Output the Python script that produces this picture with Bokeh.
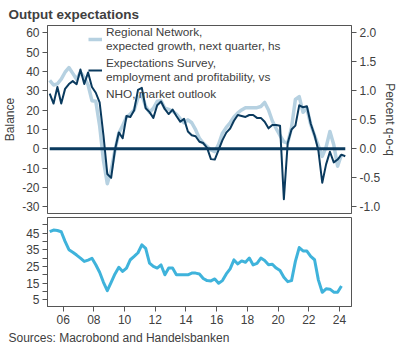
import pandas as pd
from bokeh.plotting import figure
from bokeh.models import (Range1d, LinearAxis, FixedTicker, Legend, LegendItem,
                          Title, PrintfTickFormatter)
from bokeh.layouts import column
from bokeh.embed import file_html
from bokeh.resources import INLINE

# ---------------- data (quarterly, from 2005Q1) ----------------
start_quarter = "2005Q1"

# Norges Bank Regional Network, expected growth next quarter (percent q-o-q, right scale)
regional_pct = [1.18, 1.10, 1.12, 1.20, 1.32, 1.40, 1.30, 1.20, 1.32, 1.23,
                1.10, 0.83, 0.82, 0.40, -0.20, -0.60, -0.37, -0.02, 0.27, 0.40,
                0.55, 0.60, 0.67, 0.88, 0.93, 0.73, 0.63, 0.70, 0.82, 0.83,
                0.70, 0.68, 0.65, 0.60, 0.52, 0.45, 0.50, 0.45, 0.33, 0.18,
                0.10, 0.04, -0.02, -0.05, 0.08, 0.27, 0.37, 0.45, 0.55, 0.62,
                0.67, 0.71, 0.71, 0.71, 0.71, 0.73, 0.80, 0.67, 0.48, 0.35,
                0.23, 0.12, 0.10, 0.37, 0.85, 0.90, 0.63, 0.70, 0.42, 0.23,
                0.05, -0.13, 0.03, 0.30, 0.07, -0.30, -0.10]

# Expectations Survey, employment and profitability (balance, left scale)
expect_balance = [28.6, 23.4, 32, 23.4, 31, 33.5, 35, 33.4, 41, 33.5,
                  39.5, 32, 29, 24, 7, -13, -15, -0.5, 8.5, 5.5,
                  17, 16.5, 20, 30.5, 31.5, 21, 19, 16, 22.5, 24.5,
                  20.5, 18, 20.3, 17, 14, 15.5, 9, 7, 6.5, 3.7,
                  3, 0.5, -5.3, -5.5, -0.5, 4.5, 8.4, 10.5, 14.5, 17.5,
                  17, 16.5, 17.5, 17.5, 16, 16, 14, 10.6, 12.3, 12.3,
                  12, -26, 3, 10, 12, 22.5, 21.5, 22, 13, 7,
                  -1, -17.5, -8, -1.5, -7, -5.5, -3, -3.8]

# NHO, market outlook (balance)
nho_outlook = [45.8, 46.8, 46.5, 45.8, 40, 35, 33.5, 31.8, 30, 28,
               28.8, 29.9, 26, 21.5, 15.5, 10.5, 15.5, 20.5, 24.5, 22,
               24, 29, 31, 33.2, 37.9, 35.8, 27, 25, 24, 25.9,
               20, 24, 24, 20, 20, 20, 20, 21, 21, 20.5,
               17.8, 16.5, 16.3, 17.5, 14.9, 16.5, 20.5, 23.5, 28.9, 26.5,
               28.3, 27.5, 30, 25.9, 26.8, 30, 28.5, 26, 26.3, 24,
               22.5, 18.5, 15.9, 16.5, 28, 36.3, 34.3, 34.2, 31, 29,
               16.8, 9.5, 11.6, 11.4, 9.6, 9.5, 13.3]

year_ticks = [2006, 2008, 2010, 2012, 2014, 2016, 2018, 2020, 2022, 2024]
year_labels = ["06", "08", "10", "12", "14", "16", "18", "20", "22", "24"]
balance_ticks = [-30, -20, -10, 0, 10, 20, 30, 40, 50, 60]
pct_ticks = [-1.0, -0.5, 0.0, 0.5, 1.0, 1.5, 2.0]
nho_ticks = [5, 15, 25, 35, 45]
nho_minor = [10, 20, 30, 40, 50]


def quarter_pos(n):
    per = pd.period_range(start_quarter, periods=n, freq="Q")
    return [p.year + (p.quarter - 1) / 4 + 0.125 for p in per]


t_reg = quarter_pos(len(regional_pct))
t_exp = quarter_pos(len(expect_balance))
t_nho = quarter_pos(len(nho_outlook))

# ---------------- styling ----------------
FONT = "Liberation Sans"
TXT = "#404040"
AX = "#555555"
DARK = "#0a3a5e"
LIGHT = "#b6d1e1"
NHO = "#3fb3db"

x_range = Range1d(2004.98, 2024.78)
scale = 30.0  # balance units per percent
y_lo, y_hi = -33.4, 63.75


def style_axis(ax):
    ax.axis_line_color = AX
    ax.major_tick_line_color = AX
    ax.minor_tick_line_color = AX
    ax.major_tick_out = 5
    ax.major_tick_in = 0
    ax.minor_tick_out = 0
    ax.minor_tick_in = 0
    ax.major_label_standoff = 3
    ax.major_label_text_font = FONT
    ax.major_label_text_font_size = "12px"
    ax.major_label_text_color = TXT
    ax.axis_label_text_font = FONT
    ax.axis_label_text_font_size = "12px"
    ax.axis_label_text_font_style = "normal"
    ax.axis_label_text_color = TXT


top = figure(width=400, height=215, output_backend="svg", toolbar_location=None,
             x_range=x_range, y_range=Range1d(y_lo, y_hi), x_axis_location=None,
             min_border_left=41, min_border_right=45, min_border_top=23,
             min_border_bottom=2, outline_line_color=AX, outline_line_width=1,
             background_fill_color="white", border_fill_color="white")
top.grid.visible = False
top.extra_y_ranges = {"pct": Range1d(y_lo / scale, y_hi / scale)}

top.yaxis.ticker = FixedTicker(ticks=balance_ticks)
top.yaxis.formatter = PrintfTickFormatter(format="%d")
top.yaxis.axis_label = "Balance"
top.yaxis.axis_label_standoff = 2
style_axis(top.yaxis[0])

right = LinearAxis(y_range_name="pct", ticker=FixedTicker(ticks=pct_ticks),
                   formatter=PrintfTickFormatter(format="%.1f"),
                   axis_label="Percent q-o-q", axis_label_standoff=0)
style_axis(right)
top.add_layout(right, "right")

r_reg = top.line(t_reg, regional_pct, y_range_name="pct", line_color=LIGHT,
                 line_width=3.5, line_join="round")
top.line([t_exp[0], t_exp[-1]], [0, 0], line_color=DARK, line_width=3)
r_exp = top.line(t_exp, expect_balance, line_color=DARK, line_width=2,
                 line_join="round")
r_nho_key = top.line([], [], line_color=NHO, line_width=3.5)

legend = Legend(items=[
    LegendItem(label="Regional Network,\nexpected growth, next quarter, hs", renderers=[r_reg]),
    LegendItem(label="Expectations Survey,\nemployment and profitability, vs", renderers=[r_exp]),
    LegendItem(label="NHO, market outlook", renderers=[r_nho_key]),
], location=(41, 112), padding=0, margin=0, spacing=3,
    background_fill_alpha=0, border_line_alpha=0,
    label_text_font=FONT, label_text_font_size="11.8px", label_text_color=TXT,
    label_text_line_height=1.05, glyph_width=14, glyph_height=14, label_standoff=4)
top.add_layout(legend)

top.title = Title(text="Output expectations", align="left", offset=-39,
                  text_font=FONT, text_font_size="13.5px", text_font_style="bold",
                  text_color=TXT, standoff=8, text_line_height=1.0)

bot = figure(width=400, height=135, output_backend="svg", toolbar_location=None,
             x_range=x_range, y_range=Range1d(1.0, 54.3),
             min_border_left=41, min_border_right=45, min_border_top=2,
             min_border_bottom=44, outline_line_color=AX, outline_line_width=1,
             background_fill_color="white", border_fill_color="white")
bot.grid.visible = False
bot.line(t_nho, nho_outlook, line_color=NHO, line_width=3, line_join="round")

bot.yaxis.ticker = FixedTicker(ticks=nho_ticks, minor_ticks=nho_minor)
bot.yaxis.formatter = PrintfTickFormatter(format="%d")
style_axis(bot.yaxis[0])
bot.yaxis.minor_tick_out = 5

bot.xaxis.ticker = FixedTicker(ticks=year_ticks)
bot.xaxis.major_label_overrides = dict(zip(year_ticks, year_labels))
style_axis(bot.xaxis[0])

bot.add_layout(Title(text="Sources: Macrobond and Handelsbanken", align="left",
                     offset=-39, text_font=FONT, text_font_size="12px",
                     text_font_style="normal", text_color=TXT, standoff=5), "below")

layout = column(top, bot, spacing=0)
open("out.html", "w").write(file_html(layout, INLINE))
